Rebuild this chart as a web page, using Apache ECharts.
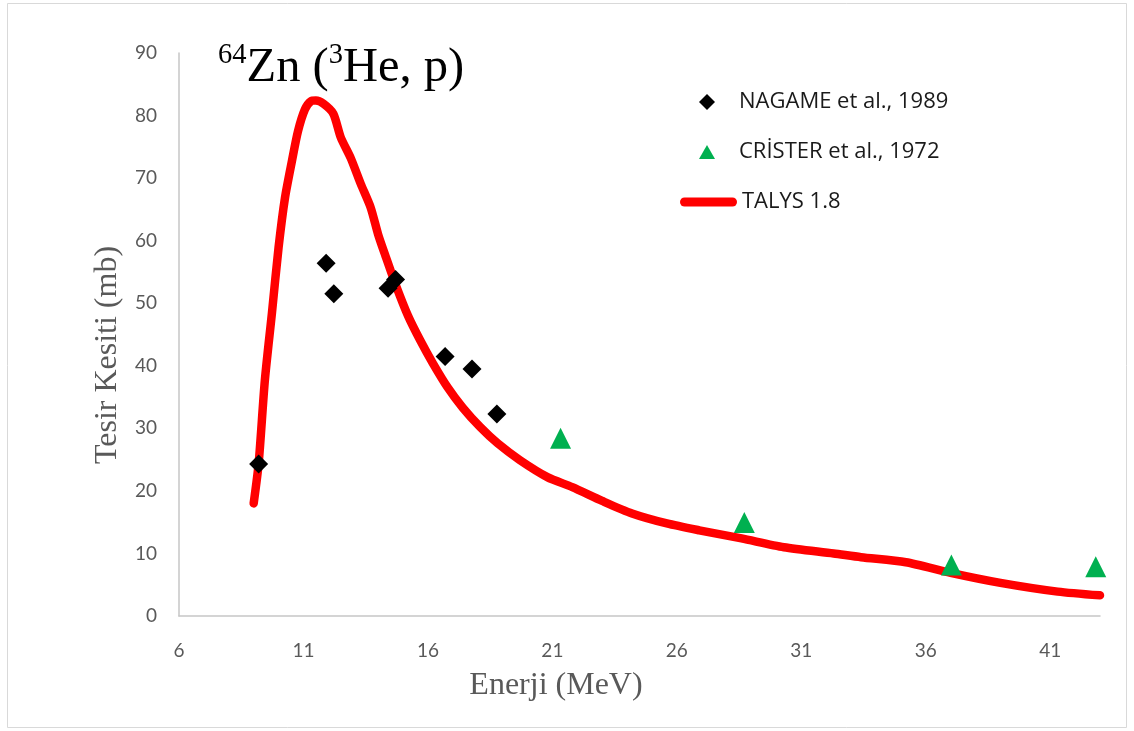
<!DOCTYPE html>
<html>
<head>
<meta charset="utf-8">
<script src="https://cdn.jsdelivr.net/npm/echarts@6/dist/echarts.min.js"></script>
<style>
  html, body { margin: 0; padding: 0; background: #ffffff; }
  #chart { width: 1134px; height: 731px; }
</style>
</head>
<body>
<div id="chart"></div>
<script>
// TALYS 1.8 excitation function for 64Zn(3He,p)
const talysEnergy = [9.0, 9.2, 9.45, 9.73, 10.0, 10.26, 10.54, 10.78, 11.06, 11.3, 11.5, 11.8, 12.2, 12.5, 12.9, 13.3, 13.7, 14.0, 14.3, 14.7, 15.2, 15.7, 16.2, 16.8, 17.4, 18.1, 18.8, 19.7, 20.8, 21.8, 23.0, 24.2, 25.6, 26.9, 28.6, 30.3, 32.3, 33.4, 35.2, 37.0, 39.0, 41.3, 43.0];
const talysXS = [18.0, 24.4, 37.7, 48.3, 58.9, 66.9, 72.8, 77.5, 81.0, 82.3, 82.4, 81.9, 80.3, 76.5, 73.2, 69.1, 65.3, 61.0, 57.5, 53.0, 48.0, 44.0, 40.4, 36.5, 33.3, 30.2, 27.6, 24.9, 22.2, 20.6, 18.4, 16.4, 14.8, 13.7, 12.4, 11.0, 10.0, 9.4, 8.6, 6.9, 5.3, 3.9, 3.3];

// NAGAME et al., 1989
const nagameEnergy = [9.2, 11.91, 12.22, 14.4, 14.7, 16.69, 17.77, 18.77];
const nagameXS = [24.3, 56.4, 51.5, 52.4, 53.8, 41.5, 39.5, 32.3];

// CRISTER et al., 1972
const cristerEnergy = [21.33, 28.71, 37.03, 42.83];
const cristerXS = [28.4, 14.95, 8.14, 7.87];

const seriesNames = ['NAGAME et al., 1989', 'CRİSTER et al., 1972', 'TALYS 1.8'];

const zip = (xs, ys) => xs.map((x, i) => [x, ys[i]]);

const tickFont = 'Lato, "Noto Sans", sans-serif';
const legendFont = '"Open Sans", "Noto Sans", sans-serif';
const serifFont = '"Liberation Serif", "DejaVu Serif", serif';

const chart = echarts.init(document.getElementById('chart'), null, { renderer: 'canvas' });

const axisLineStyle = { color: '#c6c6c6', width: 1.5 };
const legendText = { color: '#1a1a1a', fontFamily: legendFont, fontSize: 22, lineHeight: 20 };

// one legend block per entry so each row sits at its own height
function legendEntry(name, icon, left, top, w, h, textPad) {
  return {
    data: [{ name: name, icon: icon }],
    orient: 'vertical',
    left: left,
    top: top,
    padding: 0,
    itemWidth: w,
    itemHeight: h,
    symbolKeepAspect: true,
    textStyle: Object.assign({ padding: [0, 0, 0, textPad] }, legendText),
    selectedMode: false
  };
}

chart.setOption({
  animation: false,
  backgroundColor: '#ffffff',
  grid: { left: 179, right: 34, top: 53, bottom: 115, containLabel: false },
  xAxis: {
    type: 'value',
    min: 6,
    max: 43,
    interval: 5,
    axisLine: { show: true, onZero: false, lineStyle: axisLineStyle },
    axisTick: { show: false },
    splitLine: { show: false },
    axisLabel: { color: '#595959', fontFamily: tickFont, fontSize: 19, margin: 25, showMaxLabel: false }
  },
  yAxis: {
    type: 'value',
    min: 0,
    max: 90,
    interval: 10,
    axisLine: { show: true, lineStyle: axisLineStyle },
    axisTick: { show: false },
    splitLine: { show: false },
    axisLabel: { color: '#595959', fontFamily: tickFont, fontSize: 19, margin: 22 }
  },
  legend: [
    legendEntry(seriesNames[0], 'diamond', 699, 91, 16, 16, 19),
    legendEntry(seriesNames[1], 'triangle', 699, 141, 16, 14, 19),
    legendEntry(seriesNames[2], 'path://M4.5,0 L52.5,0 A4.5,4.5 0 0 1 52.5,9 L4.5,9 A4.5,4.5 0 0 1 4.5,0 Z', 680, 191, 57, 9, 0)
  ],
  series: [
    {
      name: seriesNames[2],
      type: 'line',
      data: zip(talysEnergy, talysXS),
      showSymbol: false,
      smooth: 0.25,
      lineStyle: { color: '#ff0000', width: 8.5, cap: 'round', join: 'round' },
      itemStyle: { color: '#ff0000' },
      z: 2
    },
    {
      name: seriesNames[0],
      type: 'scatter',
      data: zip(nagameEnergy, nagameXS),
      symbol: 'diamond',
      symbolSize: 19,
      itemStyle: { color: '#000000', opacity: 1 },
      z: 3
    },
    {
      name: seriesNames[1],
      type: 'scatter',
      data: zip(cristerEnergy, cristerXS),
      symbol: 'triangle',
      symbolSize: 21,
      itemStyle: { color: '#00b050', opacity: 1 },
      z: 3
    }
  ],
  graphic: [
    {
      type: 'rect',
      shape: { x: 7.5, y: 3.5, width: 1119, height: 724 },
      style: { fill: 'none', stroke: '#d9d9d9', lineWidth: 1 },
      silent: true,
      z: -10
    },
    {
      type: 'text',
      x: 218,
      y: 41,
      style: {
        text: '{s|64}{m|Zn (}{s|3}{m|He, p)}',
        fill: '#000000',
        rich: {
          m: { fontFamily: serifFont, fontSize: 48.5, lineHeight: 54, fill: '#000000' },
          s: { fontFamily: serifFont, fontSize: 28.5, lineHeight: 34, verticalAlign: 'top', fill: '#000000' }
        }
      },
      silent: true
    },
    {
      type: 'text',
      x: 556,
      y: 686,
      style: {
        text: 'Enerji (MeV)',
        fill: '#595959',
        font: '32px "Liberation Serif", serif',
        align: 'center',
        verticalAlign: 'middle'
      },
      silent: true
    },
    {
      type: 'text',
      x: 108,
      y: 355,
      rotation: Math.PI / 2,
      style: {
        text: 'Tesir Kesiti (mb)',
        fill: '#595959',
        font: '32px "Liberation Serif", serif',
        align: 'center',
        verticalAlign: 'middle'
      },
      silent: true
    }
  ]
});
</script>
</body>
</html>
